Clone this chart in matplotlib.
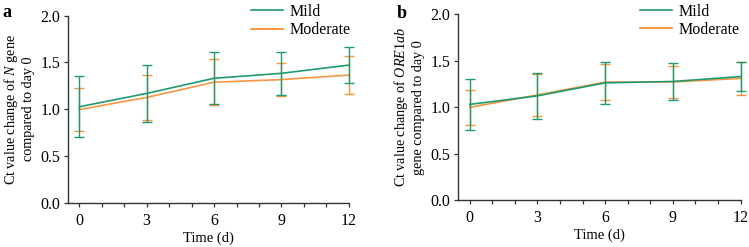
import matplotlib
matplotlib.use("Agg")
import matplotlib.pyplot as plt
from matplotlib.ticker import MultipleLocator
from matplotlib.lines import Line2D

plt.rcParams['font.family'] = ['Liberation Serif', 'DejaVu Serif']
plt.rcParams['mathtext.fontset'] = 'custom'
plt.rcParams['mathtext.rm'] = 'Liberation Serif'
plt.rcParams['mathtext.it'] = 'Liberation Serif:italic'

days = [0, 3, 6, 9, 12]

# Panel a: N gene
a_mild = [1.025, 1.168, 1.33, 1.383, 1.471]
a_mild_err = [0.325, 0.305, 0.28, 0.23, 0.19]
a_mod = [0.995, 1.125, 1.288, 1.316, 1.364]
a_mod_err = [0.23, 0.245, 0.245, 0.18, 0.2]

# Panel b: ORE1ab gene
b_mild = [1.03, 1.122, 1.262, 1.277, 1.33]
b_mild_err = [0.275, 0.245, 0.23, 0.195, 0.155]
b_mod = [0.998, 1.132, 1.27, 1.272, 1.31]
b_mod_err = [0.185, 0.225, 0.19, 0.175, 0.18]

series_names = ["Mild", "Moderate"]
green = '#1f9a6e'
orange = '#f5841f'

fig = plt.figure(figsize=(7.49, 2.47), dpi=100)
ax1 = fig.add_axes([0.0908, 0.180, 0.375, 0.7565])
ax2 = fig.add_axes([0.612, 0.190, 0.3768, 0.752])

def draw(ax, mild, mild_err, mod, mod_err, ylabel, leg_anchor):
    c1 = ax.errorbar(days, mod, yerr=mod_err, color=orange, ecolor=orange, elinewidth=1.0,
                     capsize=3.5, capthick=1.0, lw=1.2, alpha=0.85, zorder=2)
    c2 = ax.errorbar(days, mild, yerr=mild_err, color=green, ecolor=green, elinewidth=1.0,
                     capsize=3.5, capthick=1.0, lw=1.2, zorder=3)
    for c in (c1, c2):
        for art in c.get_children():
            art.set_clip_on(False)
    ax.set_xlim(-0.5, 12)
    ax.set_ylim(0, 2.0)
    ax.set_xticks(days)
    ax.xaxis.set_minor_locator(MultipleLocator(1))
    ax.yaxis.set_major_locator(MultipleLocator(0.5))
    ax.yaxis.set_major_formatter(plt.FuncFormatter(lambda v, p: f"{v:.1f}"))
    for s in ['top', 'right']:
        ax.spines[s].set_visible(False)
    for s in ['left', 'bottom']:
        ax.spines[s].set_color('#333333')
        ax.spines[s].set_linewidth(1.0)
    ax.tick_params(axis='both', which='both', direction='out', length=3.2, width=0.9,
                   color='#333333', labelsize=11.5)
    ax.tick_params(axis='x', which='both', pad=4)
    ax.tick_params(axis='y', which='both', pad=2.5)
    ax.set_xlabel("Time (d)", fontsize=10.5, labelpad=2)
    ax.set_ylabel(ylabel, fontsize=10.2, labelpad=4, linespacing=1.2)
    handles = [Line2D([], [], color=green, lw=1.2), Line2D([], [], color=orange, lw=1.2)]
    ax.legend(handles, series_names, loc='upper right',
              bbox_to_anchor=leg_anchor, frameon=False, fontsize=11.5,
              handlelength=2.0, handletextpad=0.4, borderpad=0, borderaxespad=0,
              labelspacing=0.15)

draw(ax1, a_mild, a_mild_err, a_mod, a_mod_err,
     "Ct value change of $\\mathit{N}$ gene\ncompared to day 0", (1.005, 1.063))
draw(ax2, b_mild, b_mild_err, b_mod, b_mod_err,
     "Ct value change of $\\mathit{ORE1ab}$\ngene compared to day 0", (0.995, 1.058))

fig.text(0.003, 0.985, "a", fontsize=13, fontweight='bold', va='top', ha='left')
fig.text(0.529, 0.98, "b", fontsize=13, fontweight='bold', va='top', ha='left')

fig.savefig("out.png", dpi=100)
